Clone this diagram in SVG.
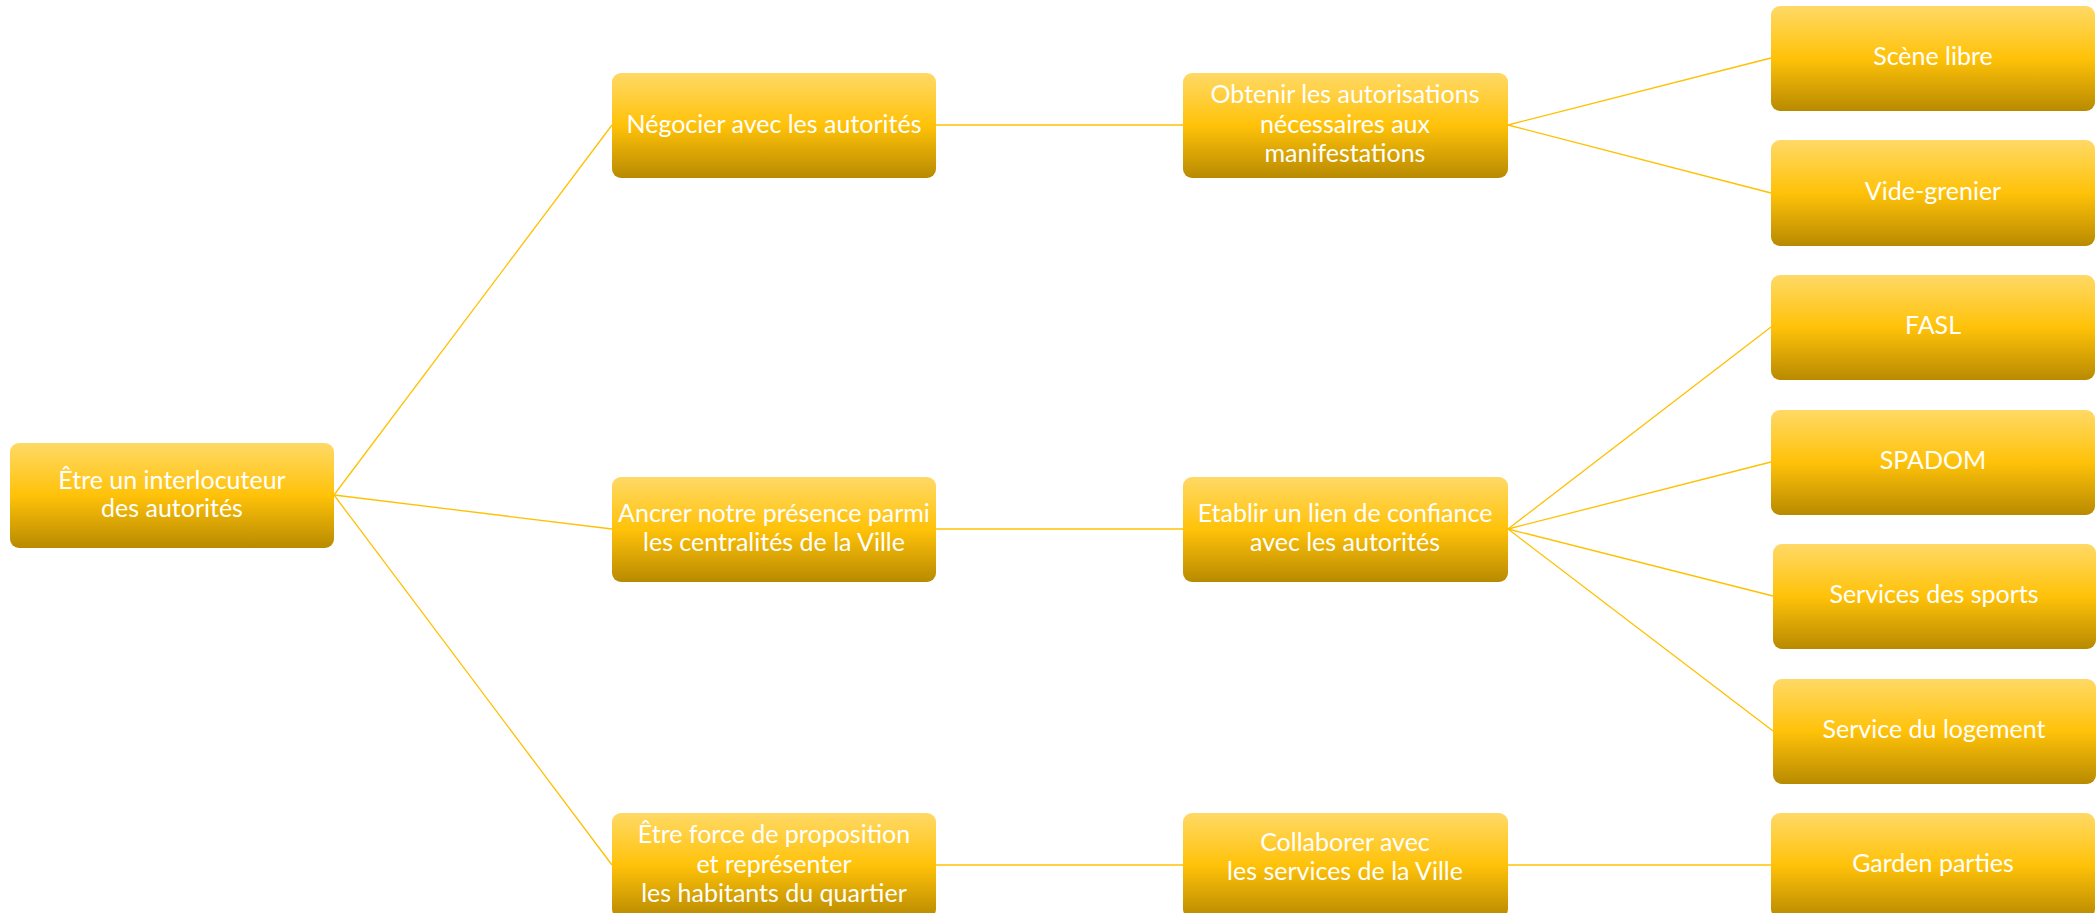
<svg xmlns="http://www.w3.org/2000/svg" width="2096" height="913" viewBox="0 0 2096 913">
<defs>
<linearGradient id="g" x1="0" y1="0" x2="0" y2="1">
<stop offset="0" stop-color="#FFD966"/>
<stop offset="0.5" stop-color="#FFC209"/>
<stop offset="1" stop-color="#B88A00"/>
</linearGradient>
<style>
.box{fill:url(#g);}
.t{font-family:Lato,"Liberation Sans",sans-serif;font-size:25px;fill:#FFFFFF;text-anchor:middle;}
.c{stroke:#FFC000;stroke-width:1.3;fill:none;}
</style>
</defs>
<rect width="2096" height="913" fill="#FFFFFF"/>
<g id="connectors">
<line class="c" x1="334" y1="495" x2="612" y2="125"/>
<line class="c" x1="334" y1="495" x2="612" y2="529"/>
<line class="c" x1="334" y1="495" x2="612" y2="865"/>
<line class="c" x1="936" y1="125" x2="1183" y2="125"/>
<line class="c" x1="936" y1="529" x2="1183" y2="529"/>
<line class="c" x1="936" y1="865" x2="1183" y2="865"/>
<line class="c" x1="1508" y1="125" x2="1771" y2="58"/>
<line class="c" x1="1508" y1="125" x2="1771" y2="193"/>
<line class="c" x1="1508" y1="529" x2="1771" y2="327"/>
<line class="c" x1="1508" y1="529" x2="1771" y2="462"/>
<line class="c" x1="1508" y1="529" x2="1773" y2="596"/>
<line class="c" x1="1508" y1="529" x2="1773" y2="731"/>
<line class="c" x1="1508" y1="865" x2="1771" y2="865"/>
</g>
<g id="n-root">
<rect class="box" x="10" y="443" width="324" height="105" rx="9"/>
<text class="t" x="172" y="489">Être un interlocuteur</text>
<text class="t" x="172" y="517">des autorités</text>
</g>
<g id="n-negocier">
<rect class="box" x="612" y="73" width="324" height="105" rx="9"/>
<text class="t" x="774" y="133">Négocier avec les autorités</text>
</g>
<g id="n-ancrer">
<rect class="box" x="612" y="477" width="324" height="105" rx="9"/>
<text class="t" x="774" y="522">Ancrer notre présence parmi</text>
<text class="t" x="774" y="551">les centralités de la Ville</text>
</g>
<g id="n-force">
<rect class="box" x="612" y="813" width="324" height="105" rx="9"/>
<text class="t" x="774" y="843">Être force de proposition</text>
<text class="t" x="774" y="873">et représenter</text>
<text class="t" x="774" y="902">les habitants du quartier</text>
</g>
<g id="n-obtenir">
<rect class="box" x="1183" y="73" width="325" height="105" rx="9"/>
<text class="t" x="1345" y="103">Obtenir les autorisations</text>
<text class="t" x="1345" y="133">nécessaires aux</text>
<text class="t" x="1345" y="162">manifestations</text>
</g>
<g id="n-etablir">
<rect class="box" x="1183" y="477" width="325" height="105" rx="9"/>
<text class="t" x="1345" y="522">Etablir un lien de confiance</text>
<text class="t" x="1345" y="551">avec les autorités</text>
</g>
<g id="n-collaborer">
<rect class="box" x="1183" y="813" width="325" height="105" rx="9"/>
<text class="t" x="1345" y="851">Collaborer avec</text>
<text class="t" x="1345" y="880">les services de la Ville</text>
</g>
<g id="n-scene">
<rect class="box" x="1771" y="6" width="324" height="105" rx="9"/>
<text class="t" x="1933" y="65">Scène libre</text>
</g>
<g id="n-vide">
<rect class="box" x="1771" y="140" width="324" height="106" rx="9"/>
<text class="t" x="1933" y="200">Vide-grenier</text>
</g>
<g id="n-fasl">
<rect class="box" x="1771" y="275" width="324" height="105" rx="9"/>
<text class="t" x="1933" y="334">FASL</text>
</g>
<g id="n-spadom">
<rect class="box" x="1771" y="410" width="324" height="105" rx="9"/>
<text class="t" x="1933" y="469">SPADOM</text>
</g>
<g id="n-sports">
<rect class="box" x="1773" y="544" width="323" height="105" rx="9"/>
<text class="t" x="1934" y="603">Services des sports</text>
</g>
<g id="n-logement">
<rect class="box" x="1773" y="679" width="323" height="105" rx="9"/>
<text class="t" x="1934" y="738">Service du logement</text>
</g>
<g id="n-garden">
<rect class="box" x="1771" y="813" width="324" height="105" rx="9"/>
<text class="t" x="1933" y="872">Garden parties</text>
</g>
</svg>
